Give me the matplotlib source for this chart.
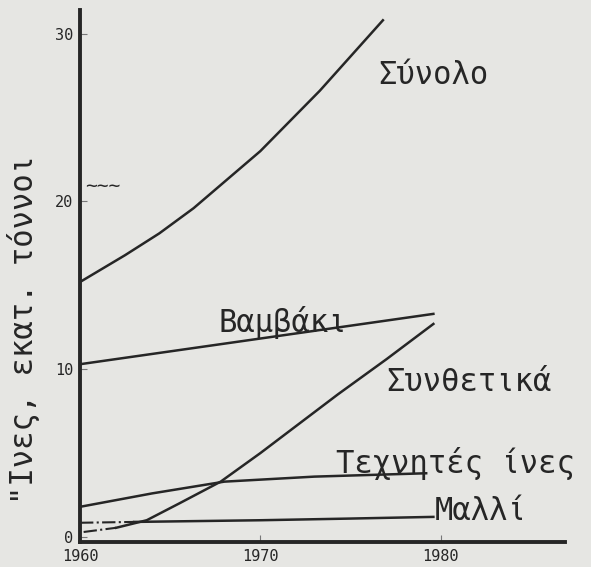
import numpy as np
import matplotlib.pyplot as plt

# values (million tonnes)
yrs_total  = [1960, 1962.5, 1964.4, 1966.3, 1970, 1973.3, 1976.8]
val_total  = [15.2, 16.8, 18.1, 19.6, 23.0, 26.6, 30.8]
yrs_cotton = [1960, 1979.6]
val_cotton = [10.3, 13.3]
yrs_synth  = [1960.2, 1962, 1963.7, 1965.5, 1967.8, 1970, 1974.3, 1977, 1979.6]
val_synth  = [0.3, 0.55, 1.0, 2.0, 3.3, 5.0, 8.5, 10.6, 12.7]
yrs_art    = [1960, 1964, 1968, 1973, 1979.2]
val_art    = [1.8, 2.6, 3.3, 3.6, 3.8]
yrs_wool   = [1960, 1963, 1970, 1975, 1979.6]
val_wool   = [0.85, 0.9, 1.0, 1.1, 1.2]

xticks = [1960, 1970, 1980]
yticks = [0, 10, 20, 30]

FONT = 'DejaVu Sans Mono'
ink = '#262626'
paper = '#e6e6e3'

fig = plt.figure(figsize=(5.91, 5.67), dpi=100, facecolor=paper)
ax = fig.add_axes([0.1354, 0.044, 0.8206, 0.938])
ax.set_facecolor(paper)

lw = 1.8
ax.plot(yrs_total, val_total, color=ink, lw=lw)
ax.plot(yrs_cotton, val_cotton, color=ink, lw=lw)
ax.plot(yrs_synth[:2], val_synth[:2], color=ink, lw=1.5, ls='-.')
ax.plot(yrs_synth[1:], val_synth[1:], color=ink, lw=lw)
ax.plot(yrs_art, val_art, color=ink, lw=lw)
ax.plot(yrs_wool[:2], val_wool[:2], color=ink, lw=1.5, ls='-.')
ax.plot(yrs_wool[1:], val_wool[1:], color=ink, lw=lw)

ax.set_xlim(1960, 1986.9)
ax.set_ylim(-0.3, 31.4)
for s in ['top', 'right']:
    ax.spines[s].set_visible(False)
for s in ['left', 'bottom']:
    ax.spines[s].set_linewidth(2.8)
    ax.spines[s].set_color(ink)

ax.set_xticks(xticks)
ax.set_yticks(yticks)
ax.tick_params(direction='in', length=5, width=0.8, color='#777777',
               labelsize=11, labelcolor=ink, pad=5)
for lab in ax.get_xticklabels() + ax.get_yticklabels():
    lab.set_family(FONT)

ax.set_ylabel('"Ινες, εκατ. τόννοι', fontsize=22, family=FONT, color=ink,
              labelpad=8)
ax.yaxis.set_label_coords(-0.083, 0.40)

kw = dict(fontsize=22, family=FONT, color=ink)
ax.text(1979.6, 27.5, 'Σύνολο', ha='center', va='center', **kw)
ax.text(1967.7, 12.8, 'Βαμβάκι', ha='left', va='center', **kw)
ax.text(1977.0, 9.2, 'Συνθετικά', ha='left', va='center', **kw)
ax.text(1974.2, 4.4, 'Τεχνητές ίνες', ha='left', va='center', **kw)
ax.text(1979.7, 1.55, 'Μαλλί', ha='left', va='center', **kw)
ax.text(1960.3, 20.9, '~~~', ha='left', va='center', fontsize=14,
        family=FONT, color=ink)

fig.savefig('out.png', dpi=100, facecolor=paper)
